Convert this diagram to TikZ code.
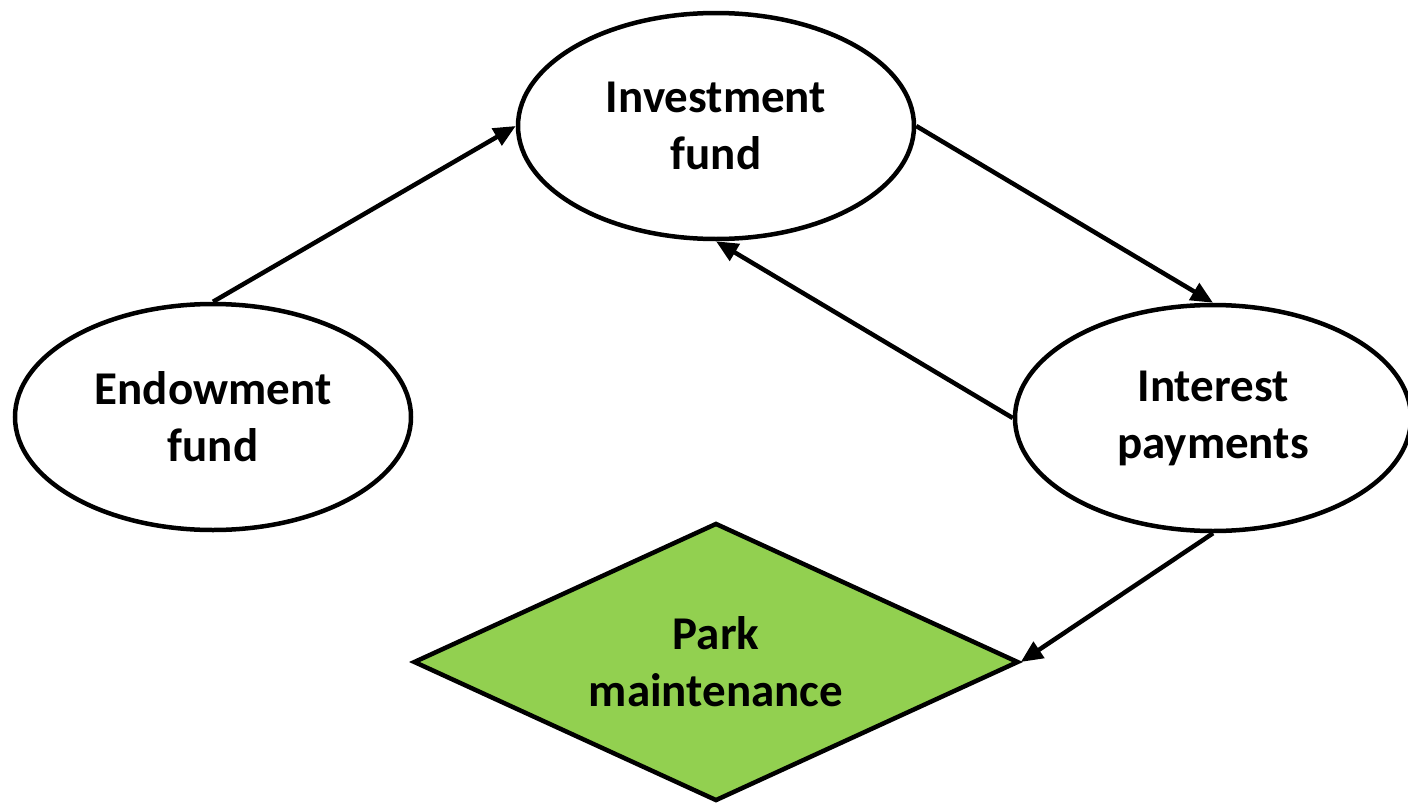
\documentclass[tikz,border=0pt]{standalone}
\usepackage{fontspec}
\setmainfont{Carlito}
\usetikzlibrary{shapes.geometric,arrows.meta}
\definecolor{parkgreen}{HTML}{92D050}
\begin{document}
\begin{tikzpicture}[x=1pt,y=-1pt,
  every node/.style={font=\fontsize{47}{57}\selectfont\bfseries, align=center, inner sep=0pt},
  oval/.style={ellipse, draw, line width=4.5pt, fill=white, minimum width=396pt, minimum height=226pt},
  decision/.style={diamond, aspect=2.18, draw, line width=4.5pt, fill=parkgreen, minimum width=605pt, minimum height=278pt},
  flow/.style={line width=4.5pt, -{Triangle[length=22pt,width=19pt]}}]
\useasboundingbox (0,0) rectangle (1408,803);
\node[oval] (invest) at (716,126) {Investment\\fund};
\node[oval] (endow) at (213,417) {Endowment\\fund};
\node[oval] (interest) at (1213,418) {Interest\\payments};
\node[decision] (park) at (716,662) {Park\\maintenance};
\draw[flow] (endow.north) -- (invest.west);
\draw[flow] (invest.east) -- (interest.north);
\draw[flow] (interest.west) -- (invest.south);
\draw[flow] (interest.south) -- (park.east);
\end{tikzpicture}
\end{document}
